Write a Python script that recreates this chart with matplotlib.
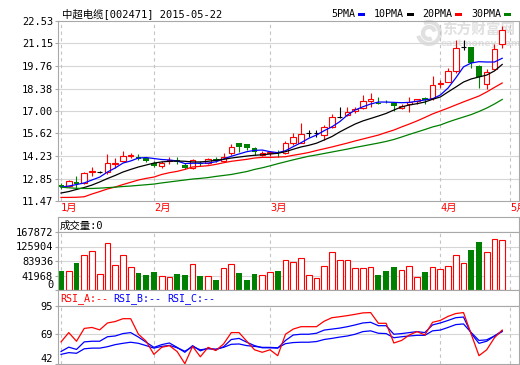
import matplotlib
matplotlib.use("Agg")
import matplotlib.pyplot as plt
import numpy as np
from matplotlib.patches import Rectangle, Arc

W, H = 520, 365

# daily candles, 58 trading days
opens = [12.45, 12.39, 12.65, 12.58, 13.28, 13.27, 13.27, 13.76, 13.93, 14.23,
         14.16, 14.11, 13.82, 13.62, 13.92, 13.99, 13.68, 13.52, 13.82, 13.82,
         14.07, 13.93, 14.40, 15.02, 14.95, 14.74, 14.32, 14.40, 14.50, 14.40,
         15.02, 15.05, 15.67, 15.66, 15.52, 16.03, 16.65, 16.75, 17.01, 17.16,
         17.63, 17.50, 17.58, 17.51, 17.20, 17.41, 17.61, 17.78, 17.78, 18.66,
         18.80, 19.46, 20.95, 20.95, 19.79, 18.64, 19.56, 21.10]
closes = [12.36, 12.70, 12.51, 13.19, 13.33, 13.27, 13.80, 13.82, 14.23, 14.28,
          14.07, 13.93, 13.65, 13.82, 13.99, 13.84, 13.52, 13.99, 13.72, 14.03,
          13.95, 14.15, 14.81, 14.81, 14.71, 14.48, 14.44, 14.50, 14.42, 15.05,
          15.38, 15.59, 15.67, 15.66, 16.03, 16.61, 16.65, 16.96, 17.13, 17.63,
          17.72, 17.46, 17.55, 17.31, 17.33, 17.57, 17.72, 17.68, 18.60, 18.72,
          19.46, 20.85, 20.95, 19.93, 19.11, 19.42, 20.79, 21.98]
highs = [12.56, 12.76, 13.00, 13.27, 13.56, 13.33, 14.36, 14.11, 14.56, 14.42,
         14.36, 14.17, 13.90, 13.93, 14.19, 14.19, 13.82, 14.05, 13.93, 14.11,
         14.15, 14.44, 14.97, 15.02, 14.97, 14.81, 14.55, 14.55, 14.60, 15.13,
         15.63, 16.28, 15.83, 15.83, 16.14, 16.81, 17.26, 17.23, 17.26, 17.98,
         18.09, 17.88, 17.65, 17.51, 17.45, 17.84, 17.74, 17.84, 19.17, 18.91,
         19.66, 21.36, 21.36, 20.95, 19.85, 19.58, 21.11, 22.22]
lows = [12.22, 12.36, 12.20, 12.52, 13.01, 13.20, 13.13, 13.50, 13.88, 14.11,
        14.00, 13.88, 13.56, 13.50, 13.72, 13.72, 13.44, 13.46, 13.60, 13.72,
        13.85, 13.85, 14.30, 14.50, 14.60, 14.30, 14.22, 14.25, 14.20, 14.34,
        14.91, 15.02, 15.42, 15.42, 15.22, 15.97, 16.60, 16.69, 16.86, 17.12,
        17.26, 17.45, 17.47, 16.98, 17.15, 16.96, 17.45, 17.45, 17.68, 18.40,
        18.80, 19.32, 20.75, 19.62, 18.40, 18.36, 19.52, 20.89]

ma5 = [12.33, 12.39, 12.48, 12.58, 12.76, 12.94, 13.25, 13.50, 13.80, 13.93,
       14.11, 14.14, 14.08, 14.02, 13.99, 13.93, 13.77, 13.79, 13.79, 13.80,
       13.88, 14.05, 14.22, 14.36, 14.50, 14.58, 14.60, 14.50, 14.44, 14.56,
       14.81, 15.05, 15.32, 15.52, 15.79, 16.03, 16.34, 16.75, 17.06, 17.26,
       17.43, 17.55, 17.55, 17.53, 17.51, 17.53, 17.60, 17.68, 17.75, 17.98,
       18.41, 19.03, 19.71, 19.95, 20.03, 20.01, 20.01, 20.24]
ma10 = [11.96, 12.05, 12.18, 12.30, 12.45, 12.64, 12.85, 13.04, 13.25, 13.41,
        13.56, 13.68, 13.80, 13.87, 13.91, 13.93, 13.91, 13.87, 13.87, 13.91,
        13.97, 14.03, 14.11, 14.17, 14.23, 14.28, 14.31, 14.36, 14.40, 14.50,
        14.65, 14.79, 14.89, 15.02, 15.22, 15.43, 15.71, 15.96, 16.20, 16.39,
        16.54, 16.69, 16.85, 17.06, 17.25, 17.37, 17.45, 17.55, 17.72, 17.86,
        18.17, 18.47, 18.78, 18.97, 19.09, 19.21, 19.46, 19.86]
ma20 = [11.69, 11.69, 11.70, 11.73, 11.90, 12.05, 12.21, 12.33, 12.48, 12.62,
        12.76, 12.86, 12.94, 13.10, 13.21, 13.29, 13.41, 13.56, 13.60, 13.64,
        13.72, 13.82, 13.91, 13.97, 14.03, 14.11, 14.15, 14.15, 14.17, 14.19,
        14.28, 14.36, 14.45, 14.57, 14.68, 14.79, 14.91, 15.03, 15.16, 15.28,
        15.40, 15.52, 15.68, 15.83, 16.02, 16.20, 16.39, 16.60, 16.82, 17.00,
        17.18, 17.37, 17.56, 17.74, 17.92, 18.17, 18.45, 18.72]
ma30 = [12.32, 12.28, 12.25, 12.24, 12.24, 12.26, 12.29, 12.32, 12.36, 12.39,
        12.43, 12.47, 12.51, 12.58, 12.64, 12.70, 12.76, 12.82, 12.86, 12.91,
        12.98, 13.04, 13.10, 13.19, 13.28, 13.41, 13.51, 13.63, 13.76, 13.88,
        14.00, 14.11, 14.22, 14.30, 14.39, 14.48, 14.57, 14.66, 14.76, 14.85,
        14.94, 15.03, 15.13, 15.25, 15.40, 15.56, 15.71, 15.86, 16.02, 16.14,
        16.32, 16.48, 16.63, 16.78, 16.97, 17.18, 17.43, 17.71]

volumes = [55500, 54600, 79100, 100100, 111500, 46900, 137100, 72500, 101000, 66000,
           50600, 44100, 53500, 41300, 37500, 46900, 44100, 75400, 41300, 41300,
           29900, 63200, 75400, 50600, 29900, 46900, 44100, 52600, 55500, 85900,
           81100, 91600, 43200, 34700, 69700, 108700, 85900, 85900, 63200, 63200,
           66000, 44100, 55500, 66900, 57400, 68800, 37500, 52600, 66000, 60300,
           68800, 100100, 77400, 115200, 138000, 108700, 148500, 145700]

rsi_a = [62.2, 70.7, 62.8, 74.5, 75.4, 73.2, 79.5, 80.8, 83.4, 83.4,
         69.2, 62.8, 50.8, 57.2, 58.8, 53.4, 42.3, 58.1, 48.6, 57.2,
         54.3, 60.3, 70.7, 70.7, 62.8, 55.0, 52.7, 55.0, 49.6, 69.2,
         73.9, 76.1, 76.1, 76.1, 81.1, 84.3, 85.2, 86.2, 87.4, 88.7,
         89.0, 79.2, 79.2, 61.2, 63.5, 68.5, 71.6, 68.5, 80.1, 81.8,
         85.5, 88.1, 89.0, 69.2, 49.6, 55.0, 66.0, 73.0]
rsi_b = [53.4, 57.4, 55.3, 62.2, 62.8, 62.8, 66.9, 67.6, 69.8, 70.7,
         66.6, 61.9, 57.2, 59.7, 61.2, 57.2, 52.7, 58.8, 54.0, 56.5,
         55.0, 57.8, 64.4, 65.4, 61.9, 58.8, 56.8, 56.8, 56.5, 63.5,
         68.5, 69.2, 69.2, 70.1, 73.0, 73.9, 74.8, 76.1, 77.7, 79.5,
         80.1, 77.0, 77.0, 69.2, 69.8, 70.7, 71.6, 70.7, 77.7, 79.5,
         81.8, 84.3, 84.9, 69.8, 60.9, 62.8, 67.6, 72.3]
rsi_c = [50.8, 52.4, 51.8, 55.9, 56.5, 56.5, 57.8, 59.7, 60.9, 61.9,
         60.9, 58.8, 56.5, 58.1, 59.0, 56.8, 53.7, 57.8, 55.0, 55.9,
         55.6, 57.2, 60.0, 60.3, 58.8, 58.1, 57.2, 57.2, 56.8, 60.6,
         61.6, 61.9, 61.9, 62.5, 64.4, 65.4, 66.6, 67.6, 69.2, 71.6,
         72.3, 70.1, 69.8, 66.0, 66.9, 67.6, 68.2, 68.2, 72.3, 73.0,
         75.4, 78.0, 78.6, 70.7, 63.5, 64.1, 67.6, 71.6]

month_idx = [0, 12, 27, 49, 58]
month_labels = ["1月", "2月", "3月", "4月", "5月"]
price_ticks = [11.47, 12.85, 14.23, 15.62, 17.00, 18.38, 19.76, 21.15, 22.53]
vol_ticks = [0, 41968, 83936, 125904, 167872]
rsi_ticks = [42, 69, 95]

title = "中超电缆[002471] 2015-05-22"
ma_names = ["5PMA", "10PMA", "20PMA", "30PMA"]

RED, GREEN, BLUE, BLACK = "#ff0000", "#008000", "#0000ff", "#000000"
SPINE, GRID, VGRID = "#a8a8a8", "#d6d6d6", "#c4c4c4"

plt.rcParams["font.family"] = ["DejaVu Sans Mono", "Noto Sans CJK SC"]
plt.rcParams["axes.unicode_minus"] = False

fig = plt.figure(figsize=(W / 100, H / 100), dpi=100)


def panel(x0, y0, x1, y1):
    # axes placed by pixel box (top-left origin)
    ax = fig.add_axes([x0 / W, 1 - y1 / H, (x1 - x0) / W, (y1 - y0) / H])
    for s in ax.spines.values():
        s.set_color(SPINE)
        s.set_linewidth(0.8)
    return ax


def month_grid(ax):
    for m in month_idx:
        ax.axvline(m, color=VGRID, lw=0.8, ls=(0, (3, 3)), zorder=0)


x = np.arange(len(opens))
xlim = (-0.39, 59.17)
o, c, h, l = map(np.array, (opens, closes, highs, lows))
up, dn, flat = c > o, c < o, c == o

# faint watermark behind the price panel
WM = "#e0e0e0"
fig.text(442 / W, 1 - 30 / H, "东方财富网", fontsize=10.5, color=WM,
         family=["Noto Sans CJK SC"], weight="bold", va="center", zorder=-1)
fig.text(441 / W, 1 - 43 / H, "eastmoney.com", fontsize=6.6, color=WM,
         family=["DejaVu Sans"], weight="bold", va="center", zorder=-1)
for r, t1, t2 in [(11, 200, 470), (6, 20, 290)]:
    fig.add_artist(Arc((429 / W, 1 - 33 / H), 2 * r / W, 2 * r / H, theta1=t1, theta2=t2,
                       transform=fig.transFigure, color=WM, lw=3, zorder=-1))

# ---- price panel
ax = panel(58, 21, 519, 201)
ax.set_facecolor("none")
ax.set_xlim(xlim)
ax.set_ylim(price_ticks[0], price_ticks[-1])
ax.set_yticks(price_ticks, [f"{v:.2f}" for v in price_ticks])
ax.set_xticks(month_idx, month_labels)
ax.tick_params(axis="y", length=2, width=0.8, color=SPINE, pad=1.5, labelsize=7.5)
ax.tick_params(axis="x", length=0, pad=1.5, labelsize=7.5, labelcolor=RED)
for lab in ax.get_xticklabels():
    lab.set_ha("left")
for v in price_ticks[1:-1]:
    ax.axhline(v, color=GRID, lw=0.8, zorder=0)
month_grid(ax)

bw = 0.71
ax.vlines(x[up], l[up], o[up], color=RED, lw=0.8, zorder=2)
ax.vlines(x[up], c[up], h[up], color=RED, lw=0.8, zorder=2)
ax.bar(x[up], c[up] - o[up], bottom=o[up], width=bw, facecolor="white",
       edgecolor=RED, lw=0.8, zorder=2)
ax.vlines(x[dn], l[dn], h[dn], color=GREEN, lw=0.8, zorder=2)
ax.bar(x[dn], o[dn] - c[dn], bottom=c[dn], width=bw, color=GREEN, lw=0, zorder=2)
ax.vlines(x[flat], l[flat], h[flat], color=BLACK, lw=0.8, zorder=2)
ax.hlines(o[flat], x[flat] - bw / 2, x[flat] + bw / 2, color=BLACK, lw=0.8, zorder=2)

for ma, col in zip([ma5, ma10, ma20, ma30], [BLUE, BLACK, RED, GREEN]):
    ax.plot(x, ma, color=col, lw=0.9, zorder=3)

fig.text(62 / W, 1 - 14 / H, title, fontsize=7.5, va="center")

# MA legend
leg_x = [331, 374, 422, 471]
for name, col, lx in zip(ma_names, [BLUE, BLACK, RED, GREEN], leg_x):
    fig.text(lx / W, 1 - 14 / H, name, fontsize=7.2, va="center")
    w_px = 6 * len(name)
    fig.add_artist(Rectangle(((lx + w_px + 3) / W, 1 - 15.5 / H), 7 / W, 3 / H,
                             transform=fig.transFigure, color=col, lw=0))

# ---- volume panel
vh = panel(58, 217, 519, 232)
vh.set_xticks([])
vh.set_yticks([])
vh.text(2 / 461, 0.45, "成交量:0", fontsize=7.5, va="center", transform=vh.transAxes)

av = panel(58, 232, 519, 290)
av.set_xlim(xlim)
av.set_ylim(vol_ticks[0], vol_ticks[-1])
av.set_yticks(vol_ticks, [str(v) for v in vol_ticks])
av.set_xticks([])
av.tick_params(axis="y", length=2, width=0.8, color=SPINE, pad=1.5, labelsize=7.5)
av.get_yticklabels()[0].set_va("bottom")
for v in vol_ticks[1:-1]:
    av.axhline(v, color=GRID, lw=0.8, zorder=0)
month_grid(av)
vol = np.array(volumes)
rise = ~dn
av.bar(x[rise], vol[rise], width=0.74, facecolor="white", edgecolor=RED, lw=0.8, zorder=2)
av.bar(x[dn], vol[dn], width=0.74, color=GREEN, lw=0, zorder=2)

# ---- RSI panel
rh = panel(58, 290, 519, 306)
rh.set_xticks([])
rh.set_yticks([])
for lab, col, lx in zip(["RSI_A:--", "RSI_B:--", "RSI_C:--"], [RED, BLUE, BLUE], [60, 113, 167]):
    rh.text((lx - 58) / 461, 0.45, lab, fontsize=7.2, color=col, va="center",
            transform=rh.transAxes)

ar = panel(58, 306, 519, 364)
ar.set_xlim(xlim)
ar.set_ylim(rsi_ticks[0], rsi_ticks[-1])
ar.set_yticks(rsi_ticks, [str(v) for v in rsi_ticks])
ar.set_xticks([])
ar.tick_params(axis="y", length=2, width=0.8, color=SPINE, pad=1.5, labelsize=7.5)
ar.get_yticklabels()[0].set_va("bottom")
ar.axhline(rsi_ticks[1], color=GRID, lw=0.8, zorder=0)
month_grid(ar)
ar.plot(x, rsi_c, color=BLUE, lw=0.9, zorder=2)
ar.plot(x, rsi_b, color=BLUE, lw=0.9, zorder=2)
ar.plot(x, rsi_a, color=RED, lw=0.9, zorder=3)

fig.savefig("out.png", dpi=100)
